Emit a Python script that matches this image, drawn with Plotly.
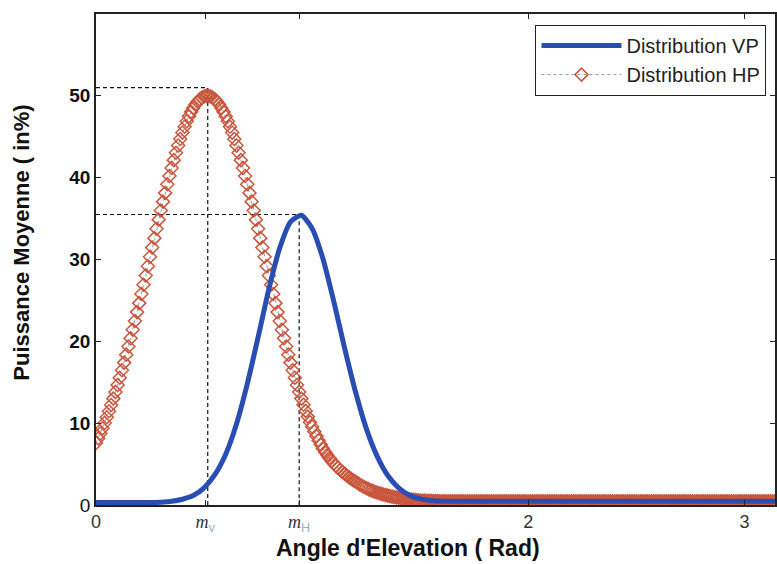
import plotly.graph_objects as go

# ---------------- data ----------------
# HP distribution, sampled every 0.01 rad from 0.00 to 3.14
HP_STEP = 0.01
hp_values = [
    # 0.00 - 0.51
    7.57, 8.14, 8.74, 9.37, 10.03, 10.73, 11.45, 12.21, 13.00, 13.82,
    14.67, 15.55, 16.46, 17.40, 18.37, 19.37, 20.38, 21.42, 22.49, 23.57,
    24.67, 25.79, 26.91, 28.04, 29.18, 30.33, 31.47, 32.61, 33.75, 34.87,
    35.98, 37.07, 38.14, 39.19, 40.21, 41.19, 42.14, 43.05, 43.92, 44.73,
    45.51, 46.22, 46.89, 47.49, 48.04, 48.52, 48.93, 49.28, 49.57, 49.78,
    49.92, 50.00,
    # 0.52 - 1.61
    50.00, 49.92, 49.78, 49.57, 49.28, 48.93, 48.52, 48.04, 47.49, 46.89,
    46.22, 45.51, 44.73, 43.92, 43.05, 42.14, 41.19, 40.21, 39.19, 38.14,
    37.07, 35.98, 34.87, 33.75, 32.61, 31.47, 30.33, 29.18, 28.04, 26.91,
    25.79, 24.67, 23.57, 22.49, 21.42, 20.38, 19.37, 18.37, 17.40, 16.46,
    15.55, 14.67, 13.82, 13.00, 12.25, 11.50, 10.80, 10.12, 9.57, 8.98,
    8.42, 7.89, 7.38, 6.91, 6.49, 6.10, 5.73, 5.39, 5.07, 4.78,
    4.51, 4.27, 4.04, 3.83, 3.61, 3.40, 3.21, 3.03, 2.87, 2.69,
    2.51, 2.35, 2.21, 2.07, 1.94, 1.82, 1.72, 1.61, 1.52, 1.44,
    1.36, 1.28, 1.21, 1.15, 1.09, 1.03, 0.98, 0.93, 0.89, 0.85,
    0.81, 0.77, 0.73, 0.70, 0.67, 0.64, 0.61, 0.58, 0.55, 0.54,
    0.53, 0.52, 0.51, 0.50, 0.49, 0.48, 0.47, 0.46, 0.46, 0.45,
    # 1.62 - 3.14
    0.45, 0.45, 0.45, 0.45, 0.45, 0.45, 0.45, 0.45, 0.45, 0.45,
    0.45, 0.45, 0.45, 0.45, 0.45, 0.45, 0.45, 0.45, 0.45, 0.45,
    0.45, 0.45, 0.45, 0.45, 0.45, 0.45, 0.45, 0.45, 0.45, 0.45,
    0.45, 0.45, 0.45, 0.45, 0.45, 0.45, 0.45, 0.45, 0.45, 0.45,
    0.45, 0.45, 0.45, 0.45, 0.45, 0.45, 0.45, 0.45, 0.45, 0.45,
    0.45, 0.45, 0.45, 0.45, 0.45, 0.45, 0.45, 0.45, 0.45, 0.45,
    0.45, 0.45, 0.45, 0.45, 0.45, 0.45, 0.45, 0.45, 0.45, 0.45,
    0.45, 0.45, 0.45, 0.45, 0.45, 0.45, 0.45, 0.45, 0.45, 0.45,
    0.45, 0.45, 0.45, 0.45, 0.45, 0.45, 0.45, 0.45, 0.45, 0.45,
    0.45, 0.45, 0.45, 0.45, 0.45, 0.45, 0.45, 0.45, 0.45, 0.45,
    0.45, 0.45, 0.45, 0.45, 0.45, 0.45, 0.45, 0.45, 0.45, 0.45,
    0.45, 0.45, 0.45, 0.45, 0.45, 0.45, 0.45, 0.45, 0.45, 0.45,
    0.45, 0.45, 0.45, 0.45, 0.45, 0.45, 0.45, 0.45, 0.45, 0.45,
    0.45, 0.45, 0.45, 0.45, 0.45, 0.45, 0.45, 0.45, 0.45, 0.45,
    0.45, 0.45, 0.45, 0.45, 0.45, 0.45, 0.45, 0.45, 0.45, 0.45,
    0.45, 0.45, 0.45,
]

# VP distribution, sampled every 0.05 rad from 0 to 3.15
VP_STEP = 0.05
vp_values = [
    0.3, 0.3, 0.3, 0.3, 0.3, 0.3, 0.35, 0.45, 0.7, 1.15,
    2.1, 3.7, 6.2, 9.9, 14.8, 20.5, 26.4, 31.4, 34.6, 35.4,
    33.8, 30.1, 24.9, 19.2, 13.9, 9.4, 6.0, 3.6, 2.1, 1.2,
    0.75, 0.55, 0.45, 0.45, 0.45, 0.45, 0.45, 0.45, 0.45, 0.45,
    0.45, 0.45, 0.45, 0.45, 0.45, 0.45, 0.45, 0.45, 0.45, 0.45,
    0.45, 0.45, 0.45, 0.45, 0.45, 0.45, 0.45, 0.45, 0.45, 0.45,
    0.45, 0.45, 0.45, 0.45,
]

# reference (peak) markers
M_V_TICK = 0.505
M_H_TICK = 0.94
HP_PEAK_X = 0.517
HP_PEAK_LEVEL = 51.0
VP_PEAK_X = 0.94
VP_PEAK_LEVEL = 35.5

x_tick_vals = [0, M_V_TICK, M_H_TICK, 2, 3]
x_tick_text = [
    "0",
    "<span style='font-family:Liberation Serif'><i>m</i></span><sub><span style='color:#8fb2d6'>v</span></sub>",
    "<span style='font-family:Liberation Serif'><i>m</i></span><sub><span style='color:#8fb2d6'>H</span></sub>",
    "2",
    "3",
]
y_tick_vals = [0, 10, 20, 30, 40, 50]
y_tick_text = ["0", "<b>10</b>", "<b>20</b>", "<b>30</b>", "<b>40</b>", "<b>50</b>"]

# ---------------- figure ----------------
hp_x = [round(i * HP_STEP, 2) for i in range(len(hp_values))]
vp_x = [round(i * VP_STEP, 2) for i in range(len(vp_values))]

fig = go.Figure()

dash_style = dict(color="#111111", width=1.2, dash="4px,3px")
# dashed guide lines to the peaks
fig.add_trace(go.Scatter(x=[0, HP_PEAK_X, HP_PEAK_X], y=[HP_PEAK_LEVEL, HP_PEAK_LEVEL, 0],
                         mode="lines", line=dash_style, showlegend=False, hoverinfo="skip"))
fig.add_trace(go.Scatter(x=[0, VP_PEAK_X, VP_PEAK_X], y=[VP_PEAK_LEVEL, VP_PEAK_LEVEL, 0],
                         mode="lines", line=dash_style, showlegend=False, hoverinfo="skip"))

fig.add_trace(go.Scatter(
    x=hp_x, y=hp_values, name="Distribution HP", mode="lines+markers",
    line=dict(color="#7f9cc4", width=1, dash="dot"),
    marker=dict(symbol="diamond-open", size=10, color="#c9553b", line=dict(width=1.5)),
    legendrank=2,
))
fig.add_trace(go.Scatter(
    x=vp_x, y=vp_values, name="Distribution VP", mode="lines",
    line=dict(color="#2a4db2", width=5, shape="spline", smoothing=0.6),
    legendrank=1,
))

fig.update_layout(
    width=777, height=564, autosize=False,
    margin=dict(l=96, r=0, t=14, b=59),
    paper_bgcolor="white", plot_bgcolor="white",
    font=dict(family="Arial, Liberation Sans, sans-serif", color="#111111"),
    showlegend=True,
    legend=dict(
        x=0.987, y=0.978, xanchor="right", yanchor="top",
        bgcolor="white", bordercolor="#222222", borderwidth=1.3,
        font=dict(size=20, color="#222222"), itemwidth=80,
        tracegroupgap=0,
    ),
    annotations=[
        dict(text="<b>Angle d'Elevation ( Rad)</b>", xref="paper", yref="paper",
             x=0.46, y=-0.088, xanchor="center", yanchor="middle", showarrow=False,
             font=dict(size=23, color="#111111")),
        dict(text="<b>Puissance Moyenne ( in%)</b>", xref="paper", yref="paper",
             x=-0.11, y=0.535, xanchor="center", yanchor="middle", showarrow=False,
             textangle=-90, font=dict(size=22, color="#111111")),
    ],
)

fig.update_xaxes(
    range=[0, 3.1416], showgrid=False, zeroline=False,
    showline=True, linecolor="#222222", linewidth=1.5, mirror="ticks",
    ticks="inside", ticklen=5, tickcolor="#222222",
    tickvals=x_tick_vals, ticktext=x_tick_text,
    tickfont=dict(size=18, color="#333333"),
)
fig.update_yaxes(
    range=[0, 60], showgrid=False, zeroline=False,
    showline=True, linecolor="#222222", linewidth=1.5, mirror="ticks",
    ticks="inside", ticklen=5, tickcolor="#222222",
    tickvals=y_tick_vals, ticktext=y_tick_text,
    tickfont=dict(size=19, color="#111111"),
)

# remove the browser's default page margin so the figure sits at the window origin
fig.write_html(
    "out.html",
    config={"displayModeBar": False},
    post_script="document.body.style.margin='0';document.body.style.overflow='hidden';",
)
